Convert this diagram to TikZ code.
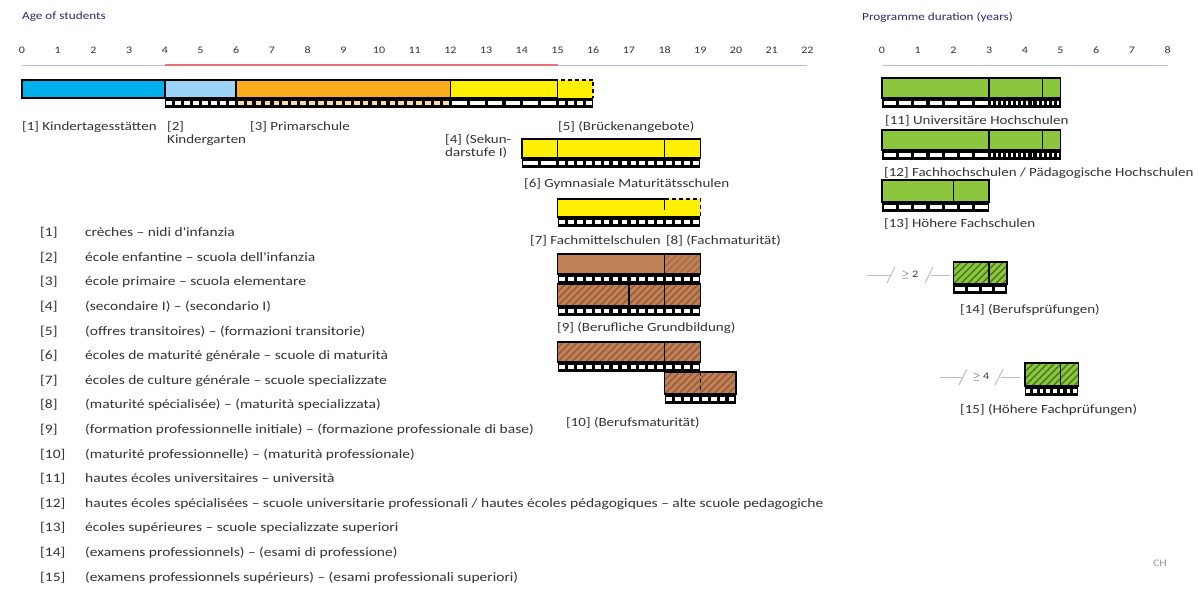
\documentclass[tikz,border=0pt]{standalone}
\usepackage{fontspec}
\setmainfont{Carlito}
\newfontfamily\widefont[FakeStretch=1.2]{Carlito}
\usetikzlibrary{positioning}

\definecolor{titlecol}{RGB}{40,40,110}
\definecolor{axiscol}{RGB}{185,190,220}
\definecolor{redline}{RGB}{236,112,124}
\definecolor{kitacol}{RGB}{0,176,236}
\definecolor{kgcol}{RGB}{155,212,245}
\definecolor{primcol}{RGB}{248,172,30}
\definecolor{primlight}{RGB}{252,220,165}
\definecolor{seccol}{RGB}{255,240,0}
\definecolor{voccol}{RGB}{192,128,86}
\definecolor{vocdark}{RGB}{150,90,55}
\definecolor{tercol}{RGB}{140,198,62}
\definecolor{terdark}{RGB}{70,120,30}
\definecolor{txtcol}{RGB}{50,50,50}
\definecolor{brkcol}{RGB}{185,188,205}

% age / programme year -> pixel position
\newcommand{\ag}[1]{22+35.7*#1}
\newcommand{\yr}[1]{882+35.7*#1}

% black strip with light cells below a bar
\newcommand{\filmstrip}[5]{%
  \pgfmathsetmacro{\fsa}{#1}\pgfmathsetmacro{\fsb}{#2}%
  \pgfmathsetmacro{\fsw}{(\fsb-\fsa)/#4}%
  \fill[black] (\fsa,#3) rectangle (\fsb,#3+10);
  \foreach \k in {1,...,#4}
    \fill[#5] ({\fsa+(\k-1)*\fsw+1.6},#3+2.6) rectangle ({\fsa+\k*\fsw-1.6},#3+7.4);
}

% hatched box
\newcommand{\hatchbox}[6]{%
  \fill[#5] (#1,#3) rectangle (#2,#4);
  \begin{scope}
    \clip (#1,#3) rectangle (#2,#4);
    \foreach \k in {-4,...,24}
      \draw[#6, line width=1.4] ({#1+\k*7},#4) -- ++({#4-#3},{-(#4-#3)});
  \end{scope}
}

\begin{document}
\begin{tikzpicture}[
    x=1pt, y=-1pt,
    bar/.style={draw=black, line width=1.6},
    dashedge/.style={draw=black, line width=1.6, dash pattern=on 4pt off 3pt},
    title/.style={font=\widefont\fontsize{11}{13}\selectfont, text=titlecol, anchor=west, inner sep=0},
    tick/.style={font=\widefont\fontsize{10}{12}\selectfont, text=txtcol, inner sep=0},
    lbl/.style={font=\widefont\fontsize{12.5}{13}\selectfont, text=txtcol, anchor=west, inner sep=0, align=left},
    legend/.style={font=\widefont\fontsize{12.9}{14}\selectfont, text=txtcol, anchor=west, inner sep=0},
    brk/.style={brkcol, line width=1}
]
\useasboundingbox (0,0) rectangle (1198,596);

% Axes
\node[title] (agetitle) at (22,17) {Age of students};
\foreach \a in {0,...,22}
  \node[tick] (age\a) at ({\ag{\a}},50) {\a};
\draw[axiscol, line width=1] ({\ag{0}},66) -- ({\ag{22}},66);
\draw[redline, line width=2] ({\ag{4}},65) -- ({\ag{15}},65);

\node[title] (durtitle) at (862,17) {Programme duration (years)};
\foreach \a in {0,...,8}
  \node[tick] (yr\a) at ({\yr{\a}},50) {\a};
\draw[axiscol, line width=1] ({\yr{0}},66) -- ({\yr{8}},66);

% Compulsory school
\filldraw[bar, fill=kitacol] ({\ag{0}},80) rectangle ({\ag{4}},98);
\filldraw[bar, fill=kgcol] ({\ag{4}},80) rectangle ({\ag{6}},98);
\filldraw[bar, fill=primcol] ({\ag{6}},80) rectangle ({\ag{12}},98);
\filldraw[bar, fill=seccol] ({\ag{12}},80) rectangle ({\ag{15}},98);
\fill[seccol] ({\ag{15}},80) rectangle ({\ag{16}},98);
\draw[dashedge] ({\ag{15}},98) -- ({\ag{15}},80) -- ({\ag{16}},80) -- ({\ag{16}},98);
\filmstrip{\ag{4}}{\ag{6}}{98}{8}{white}
\filmstrip{\ag{6}}{\ag{12}}{98}{24}{primlight}
\filmstrip{\ag{12}}{\ag{15}}{98}{6}{white}
\filmstrip{\ag{15}}{\ag{16}}{98}{4}{white}

\node[lbl] (kita) at ({\ag{0}},127) {[1] Kindertagesstätten};
\node[lbl] (kg) at (167,133.5) {[2]\\Kindergarten};
\node[lbl] (prim) at (250,127) {[3] Primarschule};
\node[lbl] (sek) at (445,146.5) {[4] (Sekun-\\darstufe I)};
\node[lbl] (bridge) at (558,127) {[5] (Brückenangebote)};

% Upper secondary
\filldraw[bar, fill=seccol] ({\ag{14}},139) rectangle ({\ag{19}},158);
\draw[bar] ({\ag{15}},139) -- ({\ag{15}},158);
\draw[bar] ({\ag{18}},139) -- ({\ag{18}},158);
\filmstrip{\ag{14}}{\ag{15}}{158}{2}{white}
\filmstrip{\ag{15}}{\ag{18}}{158}{12}{white}
\filmstrip{\ag{18}}{\ag{19}}{158}{4}{white}
\node[lbl] (gym) at (524,184) {[6] Gymnasiale Maturitätsschulen};

\fill[seccol] ({\ag{15}},199) rectangle ({\ag{19}},217);
\draw[bar] ({\ag{18}},199) -- ({\ag{15}},199) -- ({\ag{15}},217) -- ({\ag{19}},217);
\draw[dashedge] ({\ag{18}},199) -- ({\ag{19}},199) -- ({\ag{19}},217);
\draw[bar] ({\ag{18}},199) -- ({\ag{18}},210);
\filmstrip{\ag{15}}{\ag{19}}{217}{16}{white}
\node[lbl] (fms) at (530,241) {[7] Fachmittelschulen};
\node[lbl, right=5pt of fms] (fmat) {[8] (Fachmaturität)};

% Vocational education
\fill[voccol] ({\ag{15}},254) rectangle ({\ag{18}},274);
\hatchbox{\ag{18}}{\ag{19}}{254}{274}{voccol}{vocdark!60!voccol}
\draw[bar] ({\ag{15}},254) rectangle ({\ag{19}},274);
\draw[bar] ({\ag{18}},254) -- ({\ag{18}},274);
\filmstrip{\ag{15}}{\ag{19}}{274}{16}{white}

\hatchbox{\ag{15}}{\ag{19}}{284}{306}{voccol}{vocdark}
\draw[bar] ({\ag{15}},284) rectangle ({\ag{19}},306);
\draw[bar] ({\ag{17}},284) -- ({\ag{17}},306);
\draw[bar] ({\ag{18}},284) -- ({\ag{18}},306);
\filmstrip{\ag{15}}{\ag{19}}{306}{16}{white}
\node[lbl] (voc) at (557,328) {[9] (Berufliche Grundbildung)};

\hatchbox{\ag{15}}{\ag{19}}{342}{362}{voccol}{vocdark}
\draw[bar] ({\ag{15}},342) rectangle ({\ag{19}},362);
\draw[bar] ({\ag{18}},342) -- ({\ag{18}},362);
\filmstrip{\ag{15}}{\ag{19}}{362}{16}{white}

\hatchbox{\ag{18}}{\ag{20}}{372}{394}{voccol}{vocdark}
\draw[bar] ({\ag{18}},372) rectangle ({\ag{20}},394);
\draw[dashedge] ({\ag{19}},372) -- ({\ag{19}},394);
\filmstrip{\ag{18}}{\ag{20}}{394}{8}{white}
\node[lbl] (bm) at (566,423) {[10] (Berufsmaturität)};

% Tertiary level
\filldraw[bar, fill=tercol] ({\yr{0}},78) rectangle ({\yr{5}},98);
\draw[bar] ({\yr{3}},78) -- ({\yr{3}},98);
\draw[bar] ({\yr{4.5}},78) -- ({\yr{4.5}},98);
\filmstrip{\yr{0}}{\yr{3}}{98}{7}{white}
\filmstrip{\yr{3}}{\yr{5}}{98}{14}{white}
\node[lbl] (uni) at (885,121) {[11] Universitäre Hochschulen};

\filldraw[bar, fill=tercol] ({\yr{0}},130) rectangle ({\yr{5}},150);
\draw[bar] ({\yr{3}},130) -- ({\yr{3}},150);
\draw[bar] ({\yr{4.5}},130) -- ({\yr{4.5}},150);
\filmstrip{\yr{0}}{\yr{3}}{150}{7}{white}
\filmstrip{\yr{3}}{\yr{5}}{150}{14}{white}
\node[lbl] (fh) at (884,173) {[12] Fachhochschulen / Pädagogische Hochschulen};

\filldraw[bar, fill=tercol] ({\yr{0}},180) rectangle ({\yr{3}},202);
\draw[bar] ({\yr{2}},180) -- ({\yr{2}},202);
\filmstrip{\yr{0}}{\yr{3}}{202}{7}{white}
\node[lbl] (hf) at (884,224) {[13] Höhere Fachschulen};

\hatchbox{\yr{2}}{\yr{3.5}}{262}{284}{tercol}{terdark}
\draw[bar] ({\yr{2}},262) rectangle ({\yr{3.5}},284);
\draw[bar] ({\yr{3}},262) -- ({\yr{3}},284);
\filmstrip{\yr{2}}{\yr{3.5}}{284}{4}{white}
\node[lbl] (bp) at (960,310) {[14] (Berufsprüfungen)};

\node[tick] (ge2) at (910,275) {$\geq$ 2};
\coordinate (ge2in) at (867,275);
\coordinate (ge2out) at (950,275);
\draw[brk] (ge2in) -- (890,275);
\draw[brk] (887,283) -- (895,267);
\draw[brk] (925,283) -- (933,267);
\draw[brk] (931,275) -- (ge2out);

\hatchbox{\yr{4}}{\yr{5.5}}{363}{386}{tercol}{terdark}
\draw[bar] ({\yr{4}},363) rectangle ({\yr{5.5}},386);
\draw[bar] ({\yr{5}},363) -- ({\yr{5}},386);
\filmstrip{\yr{4}}{\yr{5.5}}{386}{8}{white}
\node[lbl] (hfp) at (960,410) {[15] (Höhere Fachprüfungen)};

\node[tick] (ge4) at (981,377) {$\geq$ 4};
\coordinate (ge4in) at (940,377);
\coordinate (ge4out) at (1020,377);
\draw[brk] (ge4in) -- (962,377);
\draw[brk] (959,385) -- (967,369);
\draw[brk] (995,385) -- (1003,369);
\draw[brk] (1001,377) -- (ge4out);

% Legend
\node[legend] (k1) at (40,233) {\makebox[45pt][l]{[1]}crèches – nidi d'infanzia};
\node[legend] (k2) at (40,257.6) {\makebox[45pt][l]{[2]}école enfantine – scuola dell'infanzia};
\node[legend] (k3) at (40,282.2) {\makebox[45pt][l]{[3]}école primaire – scuola elementare};
\node[legend] (k4) at (40,306.8) {\makebox[45pt][l]{[4]}(secondaire I) – (secondario I)};
\node[legend] (k5) at (40,331.4) {\makebox[45pt][l]{[5]}(offres transitoires) – (formazioni transitorie)};
\node[legend] (k6) at (40,356) {\makebox[45pt][l]{[6]}écoles de maturité générale – scuole di maturità};
\node[legend] (k7) at (40,380.6) {\makebox[45pt][l]{[7]}écoles de culture générale – scuole specializzate};
\node[legend] (k8) at (40,405.2) {\makebox[45pt][l]{[8]}(maturité spécialisée) – (maturità specializzata)};
\node[legend] (k9) at (40,429.8) {\makebox[45pt][l]{[9]}(formation professionnelle initiale) – (formazione professionale di base)};
\node[legend] (k10) at (40,454.4) {\makebox[45pt][l]{[10]}(maturité professionnelle) – (maturità professionale)};
\node[legend] (k11) at (40,479) {\makebox[45pt][l]{[11]}hautes écoles universitaires – università};
\node[legend] (k12) at (40,503.6) {\makebox[45pt][l]{[12]}hautes écoles spécialisées – scuole universitarie professionali / hautes écoles pédagogiques – alte scuole pedagogiche};
\node[legend] (k13) at (40,528.2) {\makebox[45pt][l]{[13]}écoles supérieures – scuole specializzate superiori};
\node[legend] (k14) at (40,552.8) {\makebox[45pt][l]{[14]}(examens professionnels) – (esami di professione)};
\node[legend] (k15) at (40,577.4) {\makebox[45pt][l]{[15]}(examens professionnels supérieurs) – (esami professionali superiori)};

\node[tick, text=black!40] (ch) at (1160,563) {CH};
\end{tikzpicture}
\end{document}
